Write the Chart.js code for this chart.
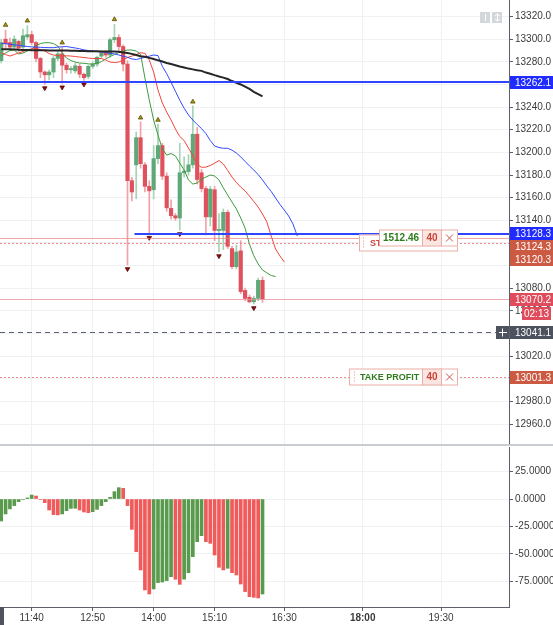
<!DOCTYPE html>
<html><head><meta charset="utf-8">
<script src="https://cdn.jsdelivr.net/npm/chart.js@4.4.1/dist/chart.umd.min.js"></script>
<style>
html,body{margin:0;padding:0;background:#fff;}
#wrap{position:relative;width:553px;height:625px;overflow:hidden;background:#fff;}
#c1{position:absolute;left:0;top:0;}
#c2{position:absolute;left:0;top:446px;}
</style></head><body>
<div id="wrap"><canvas id="c1" width="553" height="446"></canvas><canvas id="c2" width="553" height="179"></canvas></div>
<script>
// ---------- DATA ----------
const times = ['11:05','11:10','11:15','11:20','11:25','11:30','11:35','11:40','11:45','11:50','11:55',
 '12:00','12:05','12:10','12:15','12:20','12:25','12:30','12:35','12:40','12:45','12:50','12:55',
 '13:00','13:05','13:10','13:15','13:20','13:25','13:30','13:35','13:40','13:45','13:50','13:55',
 '14:00','14:05','14:10','14:15','14:20','14:25','14:30','14:35','14:40','14:45','14:50','14:55',
 '15:00','15:05','15:10','15:15','15:20','15:25','15:30','15:35','15:40','15:45','15:50','15:55',
 '16:00','16:05'];
const futureTimes = ['16:10','16:15','16:20','16:25','16:30','16:35','16:40','16:45'];

const opens = [13281,13300,13297,13293,13298,13293,13302,
 13304,13297,13283,13271,13268.5,13271,13283,13287,13277,13273,
 13272,13276,13269,13267,13276,13278,13285,13288,13286,13299.5,
 13301.5,13293.5,13278,13175,13189,13213,13189,13170,13167,13194.5,
 13206,13179,13150.5,13144,13142,13182,13183,13189,13216,13182,
 13168,13143,13167,13131,13131,13147,13115,13099,13113,13078,
 13072,13068,13071,13087];
const highs = [13300,13308,13301,13303,13299,13309,13312,
 13307,13298,13284,13272,13273,13285,13290,13293,13279,13276,
 13279,13278,13270,13277,13280,13285,13290,13290,13301,13313,
 13304,13295,13281,13178,13218,13227,13191,13175,13206,13225,
 13208,13182,13158,13146,13208,13196,13198,13241,13222,13185,
 13170,13170,13170,13146,13150,13149,13117,13118,13122,13080,
 13074,13073,13089,13090];
const lows = [13279,13292,13290,13291,13289,13291,13300,
 13295,13280,13266,13260,13264,13266,13281,13261,13270,13270,
 13270,13266,13263.5,13265,13274,13276,13283,13284,13284,13297,
 13290,13272,13100.5,13157,13159,13186,13165,13127,13159,13190,
 13176,13148,13141,13140,13131.4,13178,13180,13186,13172,13165,
 13127,13135,13122,13112,13114,13115,13097,13097,13075,13069,
 13067,13066,13069,13067.5];
const closes = [13297,13296,13293,13300,13292,13303,13304,
 13297,13283,13271,13268.5,13271,13283,13287,13277,13273,13274,
 13276.5,13269,13266,13276,13278,13284,13288,13286,13299.5,13301.5,
 13293.5,13278,13175,13165,13213,13190,13170,13166,13194.5,13206,
 13179,13151,13144,13142,13182,13183.5,13189,13216,13176,13168,
 13143,13167.5,13131,13132,13147,13117,13099,13112,13077,13071,
 13068,13071,13087,13070.2];

const maValues = [13291,13291,13291,13290.8,13290.6,13290.5,13290.4,
 13290.3,13290.2,13290.1,13290.1,13290,13290,13290,13290,13289.9,13289.8,
 13289.7,13289.6,13289.5,13289.4,13289.3,13289.3,13289.2,13289,13289,13289,
 13288.8,13288.3,13287.8,13287,13286,13285,13284.5,13283.5,13282.5,13281.3,
 13280.2,13279,13278,13277,13275.8,13275,13274,13273.3,13272.6,13272,
 13270.5,13269.5,13268.2,13267,13266,13264.8,13263,13261.5,13260,13258,
 13256,13253.5,13251.5,13249.5];
const jawValues = [13296,13296,13295.5,13295,13294.5,13294,13293.5,
 13293.2,13293,13292.8,13292.6,13292.5,13292.5,13293,13293.3,13293.5,13292.8,
 13292.2,13291.5,13290.5,13290,13289.5,13289,13288.8,13288.3,13287.5,13287,
 13286,13285,13284,13282.5,13282,13283,13284,13285,13286,13285.5,
 13276,13269.5,13262,13254,13246,13239,13233,13228.6,13224.6,13221,
 13216.6,13210.5,13205.6,13204.3,13203.6,13203.6,13202,13199.4,13196,13192,
 13188,13184.4,13180.4,13175.6,13170.3,13165.4,13159.7,13154,13149,13143.8,
 13136.7,13126];
const teethValues = [13287.9,13286.4,13285.1,13286.4,13287.8,13289.1,13290.4,
 13291.5,13291.7,13290.8,13289.5,13287.3,13286,13285.5,13285.1,13285.3,13285.1,
 13284.7,13284.2,13283.8,13283.3,13282.9,13282.9,13282.9,13281.6,13279.8,13279.4,
 13279.8,13281.6,13283.8,13285.1,13286.4,13288,13287.5,13281.6,13271,13255,
 13243.6,13235.6,13228.6,13220.6,13214,13210.5,13203.8,13197.2,13189.3,13186.8,
 13187,13188.4,13190.4,13192.8,13189.7,13184,13178.2,13173.4,13169.4,13165.9,
 13161.4,13156.6,13151.7,13145.5,13138.5,13126.1,13114.6,13108.5,13103.1];
const lipsValues = [13285.1,13287.8,13290,13290.4,13286.9,13287.8,13289.5,
 13291.3,13294.4,13296.1,13296.9,13296.9,13296.1,13293.9,13287.8,13283.3,13281.1,
 13279.8,13278.9,13278.7,13278.2,13278,13278.9,13280.1,13282.5,13284.7,13286.4,
 13288.2,13289.5,13290.4,13290.4,13289.5,13286.9,13265.7,13246.2,13228.6,13215.3,
 13203,13197.6,13199,13196.8,13190.5,13184.4,13175.6,13172,13172.9,13176.4,
 13178.2,13180,13179.1,13175.6,13168.6,13162.3,13156.1,13150,13142,13133.1,
 13119,13108.6,13101.4,13096.1,13093.5,13091.2,13090.3];

const aoValues = [-20,-13.6,-9,-6,-2.4,-0.4,1,
 3.6,2.7,-0.5,-3.3,-10,-14.2,-14.4,-13.6,-10.6,-8.5,
 -8.4,-10,-11.8,-12.4,-11.5,-9.4,-6,-2.4,1.5,6.7,
 10.3,9.7,-6,-27.6,-47.9,-64.5,-82.7,-86.4,-81.8,-76,
 -75.5,-74.2,-70.6,-73,-77.6,-72.9,-67,-52.4,-38.8,-33.3,
 -38.8,-40.3,-50.9,-62.1,-64.5,-63,-67,-69.1,-77.3,-84.2,
 -88.8,-89.4,-90,-86.4];

const upFractalTimes = ['11:10','11:35','12:15','13:15','13:45','14:05','14:45'];
const upFractalPrices = [13312.5,13316.3,13296.9,13317.5,13230.6,13228.6,13244.7];
const downFractalTimes = ['11:55','12:15','12:40','13:30','13:55','14:30','15:15','15:55'];
const downFractalPrices = [13256.8,13257.5,13260.1,13097,13124.6,13127.9,13108.4,13062.5];

const priceTicks = [13320,13300,13280,13260,13240,13220,13200,13180,13160,13140,13120,13100,13080,13060,13040,13020,13000,12980,12960];
const aoTicks = [25,0,-25,-50,-75];
const timeTickLabels = ['11:40','12:50','14:00','15:10','16:30','18:00','19:30'];
const boldTimeTick = '18:00';

const hLevelPrices = [13262.1, 13128.3];
const hLevelStarts = ['11:00', '13:38'];
const positionPrice = 13124.3;
const stopPrice = 13120.3;
const takeProfitPrice = 13001.3;
const lastPrice = 13070.2;
const crossPrice = 13041.1;
const countdownText = '02:13';
const positionPnl = '1512.46';
const positionQty = '40';

// ---------- HELPERS ----------
const FONT = "'Liberation Sans', Arial, sans-serif";
const toMin = s => { const p = s.split(':').map(Number); return p[0]*60 + p[1]; };
const X_MIN = 663.6, X_MAX = 1248;
const Y_MIN = 12940.6, Y_MAX = 13334.6;
const AO_MIN = -98.2, AO_MAX = 47.3;
const UP = '#5fa877', DOWN = '#e0515e', UP_WICK = '#a5d3b3', DOWN_WICK = '#f0a2a8';
const AO_UP = '#5a9a4c', AO_DOWN = '#ef5a5a';
const GRID = '#eff1f5', AXIS = '#5d606b', TXT = '#3a3a3a';
const lineTimes = times.concat(futureTimes);

const candleUp = closes.map((c,i)=> c >= opens[i]);
const pts = (tArr, vArr) => vArr.map((v,i)=>({x: toMin(tArr[i]), y: v}));
const noPad = s => { s.paddingTop = 0; s.paddingBottom = 0; s.paddingLeft = 0; s.paddingRight = 0; };

const xCommon = {
  type:'linear', min:X_MIN, max:X_MAX, offset:false,
  afterBuildTicks: s => { s.ticks = timeTickLabels.map(l => ({value: toMin(l)})); },
};

function closeGlyph(ctx, cx, cy, r, color){
  ctx.beginPath(); ctx.strokeStyle=color; ctx.lineWidth=1;
  ctx.moveTo(cx-r,cy-r); ctx.lineTo(cx+r,cy+r); ctx.moveTo(cx+r,cy-r); ctx.lineTo(cx-r,cy+r); ctx.stroke();
}
function dottedV(ctx, x, y0, y1, color){
  ctx.save(); ctx.setLineDash([1,2]); ctx.strokeStyle=color; ctx.lineWidth=1;
  ctx.beginPath(); ctx.moveTo(x+0.5,y0); ctx.lineTo(x+0.5,y1); ctx.stroke(); ctx.restore();
}

const overlayPlugin = {
  id:'overlay',
  afterDatasetsDraw(chart){
    const {ctx, chartArea:a, scales:{x, y}} = chart;
    ctx.save();
    ctx.beginPath(); ctx.rect(a.left, a.top, a.right-a.left, a.bottom-a.top); ctx.clip();
    const hline = (price, x0, x1, color, width, dash) => {
      const py = Math.round(y.getPixelForValue(price)) + (width % 2 ? 0.5 : 0);
      ctx.beginPath(); ctx.setLineDash(dash || []); ctx.strokeStyle = color; ctx.lineWidth = width;
      ctx.moveTo(x0, py); ctx.lineTo(x1, py); ctx.stroke();
    };
    hline(positionPrice, a.left, a.right, 'rgba(232,128,128,0.7)', 1);
    hline(stopPrice, a.left, a.right, 'rgba(228,120,120,0.85)', 1, [2,2]);
    hline(takeProfitPrice, a.left, a.right, 'rgba(228,120,120,0.85)', 1, [2,2]);
    hline(lastPrice, a.left, a.right, 'rgba(236,150,158,0.8)', 1);
    hline(crossPrice, a.left, a.right - 13, '#5d6370', 1, [5,4]);
    hLevelPrices.forEach((p,i) => hline(p, Math.max(a.left, x.getPixelForValue(toMin(hLevelStarts[i]))), a.right, '#2f45ff', 2));
    ctx.setLineDash([]);

    const bRight = a.right - 51, h = 17;
    const brd = '#e9aea6';
    ctx.textBaseline = 'middle';
    // stop loss box
    let cy = Math.round(y.getPixelForValue(stopPrice));
    let bx = bRight - 99;
    ctx.fillStyle = '#fff'; ctx.fillRect(bx, cy - h/2, 99, h);
    ctx.strokeStyle = brd; ctx.lineWidth = 1; ctx.strokeRect(bx+0.5, cy - h/2 + 0.5, 98, h-1);
    dottedV(ctx, bx + 4, cy - h/2 + 3, cy + h/2 - 3, '#d98f87');
    ctx.fillStyle = '#c9443a'; ctx.font = 'bold 9px ' + FONT; ctx.textAlign = 'left';
    ctx.fillText('STOP LOSS', bx + 11, cy + 0.5);
    // position box
    cy = Math.round(y.getPixelForValue(positionPrice));
    bx = bRight - 79;
    ctx.fillStyle = '#fff'; ctx.fillRect(bx, cy - h/2, 79, h);
    ctx.fillStyle = '#fbe5e1'; ctx.fillRect(bx + 43.5, cy - h/2, 18.5, h);
    ctx.strokeStyle = brd; ctx.strokeRect(bx+0.5, cy - h/2 + 0.5, 78, h-1);
    ctx.beginPath(); ctx.moveTo(bx+43.5, cy-h/2); ctx.lineTo(bx+43.5, cy+h/2); ctx.moveTo(bx+62.5, cy-h/2); ctx.lineTo(bx+62.5, cy+h/2); ctx.stroke();
    ctx.fillStyle = '#2f7d1e'; ctx.font = 'bold 10px ' + FONT; ctx.textAlign = 'center';
    ctx.fillText(positionPnl, bx + 22, cy + 0.5);
    ctx.fillStyle = '#c9443a'; ctx.fillText(positionQty, bx + 53, cy + 0.5);
    closeGlyph(ctx, bx + 70.5, cy, 3.5, '#d2534a');
    // take profit box
    cy = Math.round(y.getPixelForValue(takeProfitPrice));
    bx = bRight - 109;
    ctx.fillStyle = '#fff'; ctx.fillRect(bx, cy - h/2, 109, h);
    ctx.fillStyle = '#fbe5e1'; ctx.fillRect(bx + 73.5, cy - h/2, 18.5, h);
    ctx.strokeStyle = brd; ctx.strokeRect(bx+0.5, cy - h/2 + 0.5, 108, h-1);
    ctx.beginPath(); ctx.moveTo(bx+73.5, cy-h/2); ctx.lineTo(bx+73.5, cy+h/2); ctx.moveTo(bx+92.5, cy-h/2); ctx.lineTo(bx+92.5, cy+h/2); ctx.stroke();
    dottedV(ctx, bx + 5, cy - h/2 + 3, cy + h/2 - 3, '#d98f87');
    ctx.fillStyle = '#2f7d1e'; ctx.font = 'bold 9px ' + FONT; ctx.textAlign = 'left';
    ctx.fillText('TAKE PROFIT', bx + 11, cy + 0.5);
    ctx.fillStyle = '#c9443a'; ctx.font = 'bold 10px ' + FONT; ctx.textAlign = 'center';
    ctx.fillText(positionQty, bx + 83, cy + 0.5);
    closeGlyph(ctx, bx + 100.5, cy, 3.5, '#d2534a');
    ctx.restore();
  },
  afterDraw(chart){
    const {ctx, chartArea:a, scales:{y}} = chart;
    ctx.save();
    const lh = 13, lx = a.right + 1, lw = chart.width - a.right - 1;
    const defs = [
      {p: hLevelPrices[0], bg:'#1f2bff'},
      {p: hLevelPrices[1], bg:'#1f2bff'},
      {p: positionPrice, bg:'#cc5a43'},
      {p: stopPrice, bg:'#cc5a43'},
      {p: lastPrice, bg:'#e04c5c', countdown:true},
      {p: crossPrice, bg:'#4c525e', cross:true},
      {p: takeProfitPrice, bg:'#cc5a43'},
    ].map(d => ({...d, cy: y.getPixelForValue(d.p)})).sort((u,v)=>u.cy-v.cy);
    let bottom = -Infinity;
    defs.forEach(d => {
      if (d.cy - lh/2 < bottom) d.cy = bottom + lh/2;
      bottom = d.cy + lh/2 + (d.countdown ? lh + 1 : 0);
    });
    // hide colliding tick labels
    y.ticks.forEach(t => {
      const py = y.getPixelForValue(t.value);
      if (defs.some(d => py + 4 > d.cy - lh/2 && py - 4 < d.cy + lh/2)) {
        ctx.fillStyle = '#fff'; ctx.fillRect(lx, py - 6, lw, 12);
      }
    });
    ctx.font = '10px ' + FONT; ctx.textBaseline = 'middle';
    defs.forEach(d => {
      const top = Math.round(d.cy - lh/2);
      ctx.fillStyle = d.bg; ctx.fillRect(lx, top, lw, lh);
      ctx.fillStyle = '#fff'; ctx.textAlign = 'left';
      ctx.fillText(d.p.toFixed(1), a.right + 6, top + lh/2 + 0.5);
      if (d.countdown) {
        ctx.fillStyle = d.bg; ctx.fillRect(chart.width - 31, top + lh + 1, 29, lh);
        ctx.fillStyle = '#fff'; ctx.textAlign = 'center';
        ctx.fillText(countdownText, chart.width - 16.5, top + lh + 1 + lh/2 + 0.5);
      }
      if (d.cross) {
        ctx.fillStyle = d.bg; ctx.fillRect(a.right - 13, top, 13, lh);
        ctx.strokeStyle = '#fff'; ctx.lineWidth = 1; ctx.beginPath();
        ctx.moveTo(a.right - 10, top + 6.5); ctx.lineTo(a.right - 2, top + 6.5);
        ctx.moveTo(a.right - 6.5, top + 2.5); ctx.lineTo(a.right - 6.5, top + 10.5); ctx.stroke();
      }
    });
    // pane separator
    ctx.fillStyle = '#c9ccd1'; ctx.fillRect(0, chart.height - 2, chart.width, 2);
    // top-right small buttons
    ctx.fillStyle = '#d3d6db';
    ctx.fillRect(a.right - 29, 12, 10, 11); ctx.fillRect(a.right - 17, 12, 10, 11);
    ctx.strokeStyle = '#fff'; ctx.lineWidth = 1; ctx.beginPath();
    ctx.moveTo(a.right - 23.5, 14); ctx.lineTo(a.right - 23.5, 21);
    ctx.moveTo(a.right - 11.5, 14); ctx.lineTo(a.right - 11.5, 21);
    ctx.moveTo(a.right - 14, 16); ctx.lineTo(a.right - 11.5, 14); ctx.lineTo(a.right - 9, 16);
    ctx.moveTo(a.right - 14, 19); ctx.lineTo(a.right - 11.5, 21); ctx.lineTo(a.right - 9, 19);
    ctx.stroke();
    ctx.restore();
  }
};

// ---------- MAIN PRICE CHART ----------
new Chart(document.getElementById('c1'), {
  type:'bar',
  data:{ datasets:[
    {type:'line', data: pts(times, maValues), borderColor:'#262626', borderWidth:2, pointRadius:0, tension:0},
    {type:'line', data: pts(lineTimes, jawValues), borderColor:'#3349ff', borderWidth:1, pointRadius:0, tension:0},
    {type:'line', data: pts(lineTimes, teethValues), borderColor:'#f0463c', borderWidth:1, pointRadius:0, tension:0},
    {type:'line', data: pts(lineTimes, lipsValues), borderColor:'#3f9a3c', borderWidth:1, pointRadius:0, tension:0},
    {type:'line', showLine:false, data: pts(upFractalTimes, upFractalPrices), pointStyle:'triangle', pointRadius:2.6, pointBackgroundColor:'#a39416', pointBorderColor:'#5c5200', pointBorderWidth:0.8},
    {type:'line', showLine:false, data: pts(downFractalTimes, downFractalPrices), pointStyle:'triangle', rotation:180, pointRadius:2.6, pointBackgroundColor:'#8e1010', pointBorderColor:'#5a0000', pointBorderWidth:0.8},
    {type:'bar', data: times.map((t,i)=>({x: toMin(t), y:[opens[i], closes[i]]})), backgroundColor: candleUp.map(u=>u?UP:DOWN), barThickness:3.5, grouped:false, minBarLength:1},
    {type:'bar', data: times.map((t,i)=>({x: toMin(t), y:[lows[i], highs[i]]})), backgroundColor: candleUp.map(u=>u?UP_WICK:DOWN_WICK), barThickness:1, grouped:false},
  ]},
  options:{
    responsive:false, animation:false, devicePixelRatio:1, events:[],
    layout:{padding:0, autoPadding:false},
    plugins:{legend:{display:false}, tooltip:{enabled:false}},
    scales:{
      x:{...xCommon, ticks:{display:false}, grid:{color:GRID, drawTicks:false, offset:false}, border:{display:false},
         afterFit: s => { s.height = 0; noPad(s); }},
      y:{type:'linear', position:'right', min:Y_MIN, max:Y_MAX,
         afterBuildTicks: s => { s.ticks = priceTicks.map(v => ({value:v})); },
         ticks:{callback: v => Number(v).toFixed(1), color:TXT, font:{family:FONT, size:10}, padding:2},
         grid:{color:GRID, drawTicks:true, tickLength:4, tickColor:AXIS},
         border:{display:true, color:AXIS},
         afterFit: s => { s.width = 44; noPad(s); }}
    }
  },
  plugins:[overlayPlugin]
});

// ---------- AWESOME OSCILLATOR PANE ----------
const aoColors = aoValues.map((v,i) => (i === 0 || v >= aoValues[i-1]) ? AO_UP : AO_DOWN);
new Chart(document.getElementById('c2'), {
  type:'bar',
  data:{ datasets:[
    {data: times.map((t,i)=>({x: toMin(t), y: aoValues[i]})), backgroundColor: aoColors, barThickness:3, grouped:false}
  ]},
  options:{
    responsive:false, animation:false, devicePixelRatio:1, events:[],
    layout:{padding:{top:1}, autoPadding:false},
    plugins:{legend:{display:false}, tooltip:{enabled:false}},
    scales:{
      x:{...xCommon,
         ticks:{autoSkip:false, maxRotation:0, padding:1, color:TXT,
           callback: v => { const h = Math.floor(v/60), m = Math.round(v%60); return String(h).padStart(2,'0') + ':' + String(m).padStart(2,'0'); },
           font: c => ({family:FONT, size:10, weight: (c.tick && c.tick.value === toMin(boldTimeTick)) ? 'bold' : 'normal'})},
         grid:{color:GRID, drawTicks:true, tickLength:4, tickColor:AXIS, offset:false},
         border:{display:true, color:AXIS},
         afterFit: s => { s.height = 18; noPad(s); }},
      y:{type:'linear', position:'right', min:AO_MIN, max:AO_MAX,
         afterBuildTicks: s => { s.ticks = aoTicks.map(v => ({value:v})); },
         ticks:{callback: v => Number(v).toFixed(4), color:TXT, font:{family:FONT, size:10}, padding:2},
         grid:{color:GRID, drawTicks:true, tickLength:4, tickColor:AXIS},
         border:{display:true, color:AXIS},
         afterFit: s => { s.width = 44; noPad(s); }}
    }
  },
  plugins:[{id:'corner', afterDraw(chart){ const c = chart.ctx; c.save(); c.fillStyle='#50535e'; c.fillRect(0, chart.chartArea.bottom, 4, chart.height - chart.chartArea.bottom); c.restore(); }}]
});
</script>
</body></html>
